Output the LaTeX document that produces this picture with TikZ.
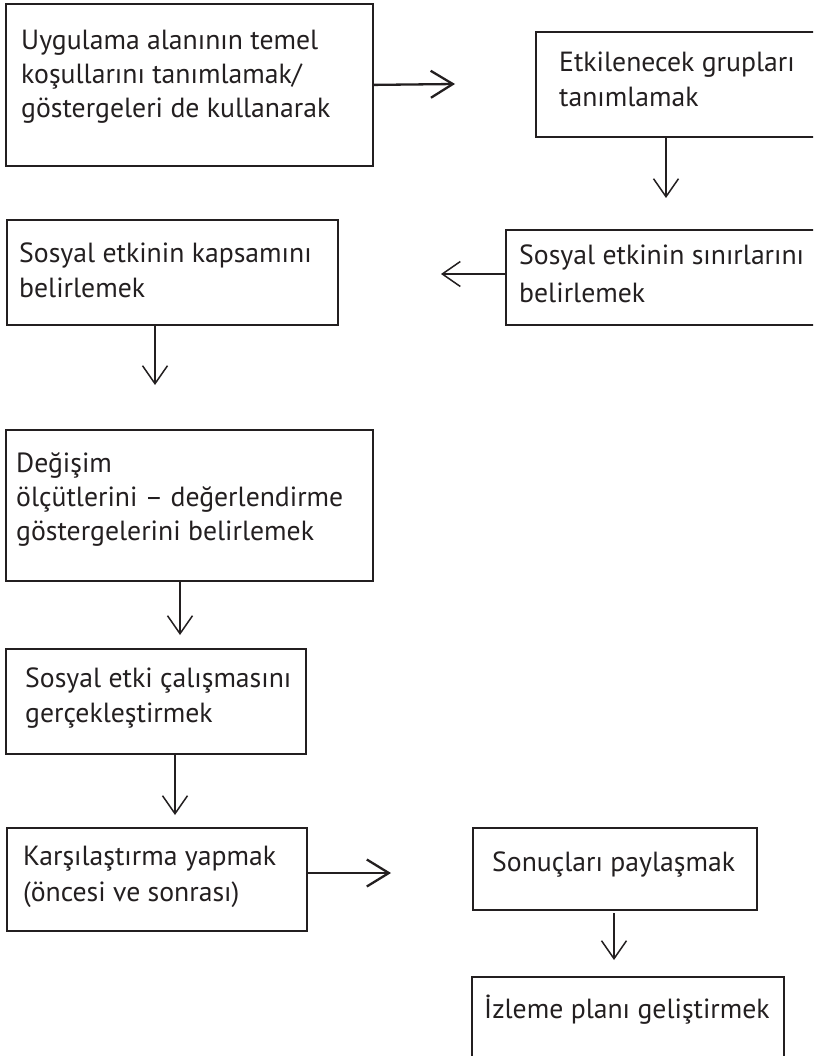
\documentclass[tikz,border=0pt]{standalone}
\usepackage{fontspec}
\setmainfont{PT Sans}
\usetikzlibrary{arrows.meta}
\definecolor{ink}{HTML}{231F20}
\begin{document}
\begin{tikzpicture}[x=1pt,y=-1pt,
  boxstyle/.style={draw=ink, line width=1.8pt, rectangle, inner sep=0pt},
  txt/.style={anchor=base west, inner sep=0pt, text=ink, font=\fontsize{27.7}{34}\selectfont},
  thinarr/.style={draw=ink, line width=1.5pt, -{Straight Barb[length=18pt,width=25pt]}},
  thickarr/.style={draw=ink, line width=2.3pt, -{Straight Barb[length=22pt,width=27pt]}}
]
\useasboundingbox (0,0) rectangle (813,1056);
\clip (0,0) rectangle (813,1056);
\fill[white] (0,0) rectangle (813,1056);

% boxes
\node[boxstyle, anchor=north west, minimum width=367pt, minimum height=162pt] (A) at (5,3) {};
\node[boxstyle, anchor=north west, minimum width=290pt, minimum height=105pt] (B) at (535,31) {};
\node[boxstyle, anchor=north west, minimum width=331pt, minimum height=105pt] (C) at (6,219) {};
\node[boxstyle, anchor=north west, minimum width=320pt, minimum height=95pt] (D) at (505,229) {};
\node[boxstyle, anchor=north west, minimum width=367pt, minimum height=151pt] (E) at (5,429) {};
\node[boxstyle, anchor=north west, minimum width=300pt, minimum height=105pt] (F) at (5,648) {};
\node[boxstyle, anchor=north west, minimum width=300pt, minimum height=103pt] (G) at (6,827) {};
\node[boxstyle, anchor=north west, minimum width=284pt, minimum height=82pt] (H) at (472,827) {};
\node[boxstyle, anchor=north west, minimum width=312pt, minimum height=100pt] (I) at (471,976) {};

% texts
\node[txt] (a1) at (21,50) {Uygulama alanının temel};
\node[txt] (a2) at (21,84) {koşullarını tanımlamak/};
\node[txt] (a3) at (21,118) {göstergeleri de kullanarak};
\node[txt] (b1) at (559,72) {Etkilenecek grupları};
\node[txt] (b2) at (559,107) {tanımlamak};
\node[txt] (c1) at (19,263) {Sosyal etkinin kapsamını};
\node[txt] (c2) at (19,298) {belirlemek};
\node[txt] (d1) at (519,265) {Sosyal etkinin sınırlarını};
\node[txt] (d2) at (519,302) {belirlemek};
\node[txt] (e1) at (16,472) {Değişim};
\node[txt] (e2) at (16,506) {ölçütlerini – değerlendirme};
\node[txt] (e3) at (16,540) {göstergelerini belirlemek};
\node[txt] (f1) at (25,687) {Sosyal etki çalışmasını};
\node[txt] (f2) at (25,722) {gerçekleştirmek};
\node[txt] (g1) at (23,865) {Karşılaştırma yapmak};
\node[txt] (g2) at (23,901) {(öncesi ve sonrası)};
\node[txt] (h1) at (492,871) {Sonuçları paylaşmak};
\node[txt] (i1) at (484,1018) {İzleme planı geliştirmek};

% arrow tips (free ends)
\coordinate (tAB) at (455,84);
\coordinate (tB) at (666,198);
\coordinate (tDC) at (441,274);
\coordinate (tC) at (155,385);
\coordinate (tE) at (180,635);
\coordinate (tF) at (175,815);
\coordinate (tGH) at (391,873);
\coordinate (tH) at (614,960);
\coordinate (sH) at (614,913);

% connectors
\draw[thickarr] (A.east) -- (tAB);
\draw[thinarr] (B.south -| tB) -- (tB);
\draw[thinarr] (D.west |- tDC) -- (tDC);
\draw[thinarr] (C.south -| tC) -- (tC);
\draw[thinarr] (E.south -| tE) -- (tE);
\draw[thinarr] (F.south -| tF) -- (tF);
\draw[thickarr] (G.east |- tGH) -- (tGH);
\draw[thinarr] (sH) -- (tH);
\end{tikzpicture}
\end{document}
